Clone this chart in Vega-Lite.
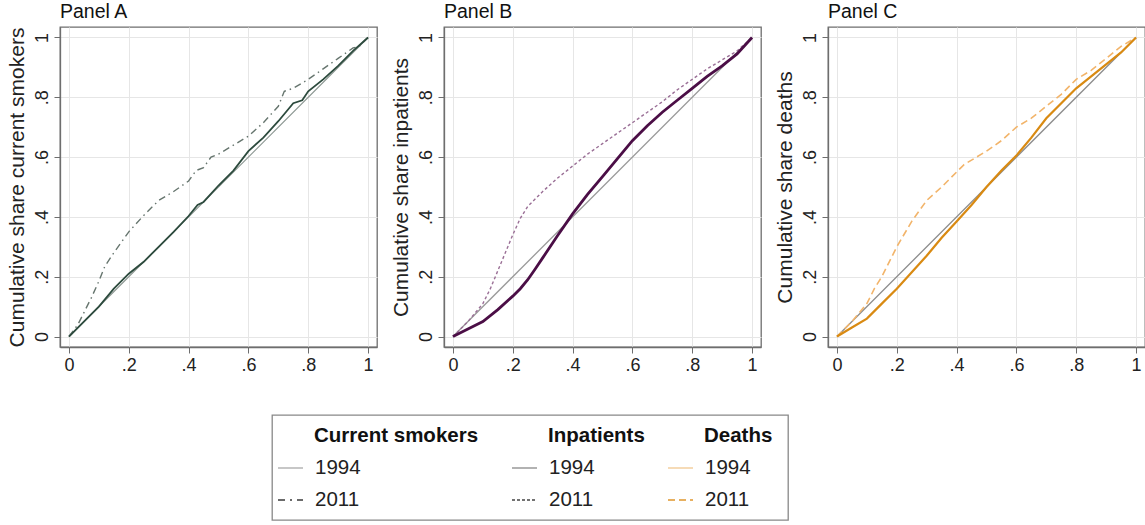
{
  "$schema": "https://vega.github.io/schema/vega-lite/v6.json",
  "padding": {"left": 5, "top": 0, "right": 2, "bottom": 0},
  "background": "white",
  "datasets": {
    "curves": [
      {"panel": "A", "series": "diag", "x": 0, "y": 0},
      {"panel": "A", "series": "diag", "x": 1, "y": 1},
      {"panel": "A", "series": "1994", "x": 0, "y": 0},
      {"panel": "A", "series": "1994", "x": 0.05, "y": 0.05},
      {"panel": "A", "series": "1994", "x": 0.1, "y": 0.1},
      {"panel": "A", "series": "1994", "x": 0.15, "y": 0.16},
      {"panel": "A", "series": "1994", "x": 0.2, "y": 0.21},
      {"panel": "A", "series": "1994", "x": 0.25, "y": 0.25},
      {"panel": "A", "series": "1994", "x": 0.3, "y": 0.3},
      {"panel": "A", "series": "1994", "x": 0.35, "y": 0.35},
      {"panel": "A", "series": "1994", "x": 0.4, "y": 0.403},
      {"panel": "A", "series": "1994", "x": 0.43, "y": 0.44},
      {"panel": "A", "series": "1994", "x": 0.45, "y": 0.45},
      {"panel": "A", "series": "1994", "x": 0.5, "y": 0.505},
      {"panel": "A", "series": "1994", "x": 0.55, "y": 0.555},
      {"panel": "A", "series": "1994", "x": 0.6, "y": 0.62},
      {"panel": "A", "series": "1994", "x": 0.65, "y": 0.665},
      {"panel": "A", "series": "1994", "x": 0.7, "y": 0.72},
      {"panel": "A", "series": "1994", "x": 0.75, "y": 0.78},
      {"panel": "A", "series": "1994", "x": 0.78, "y": 0.79},
      {"panel": "A", "series": "1994", "x": 0.8, "y": 0.82},
      {"panel": "A", "series": "1994", "x": 0.85, "y": 0.86},
      {"panel": "A", "series": "1994", "x": 0.9, "y": 0.905},
      {"panel": "A", "series": "1994", "x": 0.95, "y": 0.955},
      {"panel": "A", "series": "1994", "x": 1, "y": 1},
      {"panel": "A", "series": "2011", "x": 0, "y": 0},
      {"panel": "A", "series": "2011", "x": 0.03, "y": 0.04},
      {"panel": "A", "series": "2011", "x": 0.05, "y": 0.08},
      {"panel": "A", "series": "2011", "x": 0.075, "y": 0.13},
      {"panel": "A", "series": "2011", "x": 0.1, "y": 0.185},
      {"panel": "A", "series": "2011", "x": 0.12, "y": 0.235},
      {"panel": "A", "series": "2011", "x": 0.15, "y": 0.28},
      {"panel": "A", "series": "2011", "x": 0.2, "y": 0.35},
      {"panel": "A", "series": "2011", "x": 0.25, "y": 0.405},
      {"panel": "A", "series": "2011", "x": 0.3, "y": 0.455},
      {"panel": "A", "series": "2011", "x": 0.35, "y": 0.485},
      {"panel": "A", "series": "2011", "x": 0.4, "y": 0.52},
      {"panel": "A", "series": "2011", "x": 0.425, "y": 0.555},
      {"panel": "A", "series": "2011", "x": 0.45, "y": 0.565},
      {"panel": "A", "series": "2011", "x": 0.475, "y": 0.6},
      {"panel": "A", "series": "2011", "x": 0.5, "y": 0.61},
      {"panel": "A", "series": "2011", "x": 0.55, "y": 0.64},
      {"panel": "A", "series": "2011", "x": 0.6, "y": 0.67},
      {"panel": "A", "series": "2011", "x": 0.65, "y": 0.715},
      {"panel": "A", "series": "2011", "x": 0.7, "y": 0.77},
      {"panel": "A", "series": "2011", "x": 0.72, "y": 0.82},
      {"panel": "A", "series": "2011", "x": 0.75, "y": 0.83},
      {"panel": "A", "series": "2011", "x": 0.8, "y": 0.86},
      {"panel": "A", "series": "2011", "x": 0.85, "y": 0.895},
      {"panel": "A", "series": "2011", "x": 0.9, "y": 0.93},
      {"panel": "A", "series": "2011", "x": 0.95, "y": 0.965},
      {"panel": "A", "series": "2011", "x": 0.97, "y": 0.97},
      {"panel": "A", "series": "2011", "x": 1, "y": 1},
      {"panel": "B", "series": "diag", "x": 0, "y": 0},
      {"panel": "B", "series": "diag", "x": 1, "y": 1},
      {"panel": "B", "series": "1994", "x": 0, "y": 0},
      {"panel": "B", "series": "1994", "x": 0.05, "y": 0.025},
      {"panel": "B", "series": "1994", "x": 0.1, "y": 0.05},
      {"panel": "B", "series": "1994", "x": 0.15, "y": 0.09},
      {"panel": "B", "series": "1994", "x": 0.2, "y": 0.135},
      {"panel": "B", "series": "1994", "x": 0.225, "y": 0.16},
      {"panel": "B", "series": "1994", "x": 0.25, "y": 0.19},
      {"panel": "B", "series": "1994", "x": 0.275, "y": 0.226},
      {"panel": "B", "series": "1994", "x": 0.3, "y": 0.263},
      {"panel": "B", "series": "1994", "x": 0.35, "y": 0.338},
      {"panel": "B", "series": "1994", "x": 0.4, "y": 0.41},
      {"panel": "B", "series": "1994", "x": 0.45, "y": 0.475},
      {"panel": "B", "series": "1994", "x": 0.5, "y": 0.535},
      {"panel": "B", "series": "1994", "x": 0.55, "y": 0.595},
      {"panel": "B", "series": "1994", "x": 0.6, "y": 0.655},
      {"panel": "B", "series": "1994", "x": 0.65, "y": 0.705},
      {"panel": "B", "series": "1994", "x": 0.7, "y": 0.75},
      {"panel": "B", "series": "1994", "x": 0.75, "y": 0.79},
      {"panel": "B", "series": "1994", "x": 0.8, "y": 0.83},
      {"panel": "B", "series": "1994", "x": 0.85, "y": 0.87},
      {"panel": "B", "series": "1994", "x": 0.9, "y": 0.905},
      {"panel": "B", "series": "1994", "x": 0.95, "y": 0.945},
      {"panel": "B", "series": "1994", "x": 1, "y": 1},
      {"panel": "B", "series": "2011", "x": 0, "y": 0},
      {"panel": "B", "series": "2011", "x": 0.05, "y": 0.05},
      {"panel": "B", "series": "2011", "x": 0.1, "y": 0.11},
      {"panel": "B", "series": "2011", "x": 0.125, "y": 0.16},
      {"panel": "B", "series": "2011", "x": 0.15, "y": 0.22},
      {"panel": "B", "series": "2011", "x": 0.175, "y": 0.28},
      {"panel": "B", "series": "2011", "x": 0.2, "y": 0.34},
      {"panel": "B", "series": "2011", "x": 0.225, "y": 0.395},
      {"panel": "B", "series": "2011", "x": 0.25, "y": 0.435},
      {"panel": "B", "series": "2011", "x": 0.3, "y": 0.485},
      {"panel": "B", "series": "2011", "x": 0.35, "y": 0.53},
      {"panel": "B", "series": "2011", "x": 0.4, "y": 0.57},
      {"panel": "B", "series": "2011", "x": 0.45, "y": 0.61},
      {"panel": "B", "series": "2011", "x": 0.5, "y": 0.645},
      {"panel": "B", "series": "2011", "x": 0.55, "y": 0.68},
      {"panel": "B", "series": "2011", "x": 0.6, "y": 0.715},
      {"panel": "B", "series": "2011", "x": 0.65, "y": 0.75},
      {"panel": "B", "series": "2011", "x": 0.7, "y": 0.785},
      {"panel": "B", "series": "2011", "x": 0.75, "y": 0.825},
      {"panel": "B", "series": "2011", "x": 0.8, "y": 0.86},
      {"panel": "B", "series": "2011", "x": 0.85, "y": 0.895},
      {"panel": "B", "series": "2011", "x": 0.9, "y": 0.925},
      {"panel": "B", "series": "2011", "x": 0.95, "y": 0.955},
      {"panel": "B", "series": "2011", "x": 1, "y": 1},
      {"panel": "C", "series": "diag", "x": 0, "y": 0},
      {"panel": "C", "series": "diag", "x": 1, "y": 1},
      {"panel": "C", "series": "1994", "x": 0, "y": 0},
      {"panel": "C", "series": "1994", "x": 0.05, "y": 0.03},
      {"panel": "C", "series": "1994", "x": 0.1, "y": 0.06},
      {"panel": "C", "series": "1994", "x": 0.15, "y": 0.11},
      {"panel": "C", "series": "1994", "x": 0.2, "y": 0.16},
      {"panel": "C", "series": "1994", "x": 0.25, "y": 0.215},
      {"panel": "C", "series": "1994", "x": 0.3, "y": 0.27},
      {"panel": "C", "series": "1994", "x": 0.35, "y": 0.33},
      {"panel": "C", "series": "1994", "x": 0.4, "y": 0.385},
      {"panel": "C", "series": "1994", "x": 0.45, "y": 0.44},
      {"panel": "C", "series": "1994", "x": 0.5, "y": 0.5},
      {"panel": "C", "series": "1994", "x": 0.55, "y": 0.555},
      {"panel": "C", "series": "1994", "x": 0.6, "y": 0.605},
      {"panel": "C", "series": "1994", "x": 0.65, "y": 0.665},
      {"panel": "C", "series": "1994", "x": 0.7, "y": 0.73},
      {"panel": "C", "series": "1994", "x": 0.75, "y": 0.78},
      {"panel": "C", "series": "1994", "x": 0.8, "y": 0.83},
      {"panel": "C", "series": "1994", "x": 0.85, "y": 0.87},
      {"panel": "C", "series": "1994", "x": 0.9, "y": 0.91},
      {"panel": "C", "series": "1994", "x": 0.95, "y": 0.95},
      {"panel": "C", "series": "1994", "x": 1, "y": 1},
      {"panel": "C", "series": "2011", "x": 0, "y": 0},
      {"panel": "C", "series": "2011", "x": 0.05, "y": 0.05},
      {"panel": "C", "series": "2011", "x": 0.1, "y": 0.11},
      {"panel": "C", "series": "2011", "x": 0.125, "y": 0.16},
      {"panel": "C", "series": "2011", "x": 0.15, "y": 0.2},
      {"panel": "C", "series": "2011", "x": 0.2, "y": 0.3},
      {"panel": "C", "series": "2011", "x": 0.25, "y": 0.385},
      {"panel": "C", "series": "2011", "x": 0.3, "y": 0.455},
      {"panel": "C", "series": "2011", "x": 0.35, "y": 0.5},
      {"panel": "C", "series": "2011", "x": 0.4, "y": 0.55},
      {"panel": "C", "series": "2011", "x": 0.425, "y": 0.575},
      {"panel": "C", "series": "2011", "x": 0.45, "y": 0.59},
      {"panel": "C", "series": "2011", "x": 0.5, "y": 0.62},
      {"panel": "C", "series": "2011", "x": 0.55, "y": 0.655},
      {"panel": "C", "series": "2011", "x": 0.6, "y": 0.7},
      {"panel": "C", "series": "2011", "x": 0.65, "y": 0.73},
      {"panel": "C", "series": "2011", "x": 0.7, "y": 0.77},
      {"panel": "C", "series": "2011", "x": 0.75, "y": 0.81},
      {"panel": "C", "series": "2011", "x": 0.8, "y": 0.86},
      {"panel": "C", "series": "2011", "x": 0.85, "y": 0.89},
      {"panel": "C", "series": "2011", "x": 0.9, "y": 0.93},
      {"panel": "C", "series": "2011", "x": 0.95, "y": 0.97},
      {"panel": "C", "series": "2011", "x": 1, "y": 1}
    ],
    "legendItems": [
      {"group": "Current smokers", "year": "1994", "key": "A1994", "col": 0, "row": 1},
      {"group": "Current smokers", "year": "2011", "key": "A2011", "col": 0, "row": 2},
      {"group": "Inpatients", "year": "1994", "key": "B1994", "col": 1, "row": 1},
      {"group": "Inpatients", "year": "2011", "key": "B2011", "col": 1, "row": 2},
      {"group": "Deaths", "year": "1994", "key": "C1994", "col": 2, "row": 1},
      {"group": "Deaths", "year": "2011", "key": "C2011", "col": 2, "row": 2}
    ],
    "legendHeads": [
      {"group": "Current smokers", "col": 0, "row": 0},
      {"group": "Inpatients", "col": 1, "row": 0},
      {"group": "Deaths", "col": 2, "row": 0}
    ]
  },
  "spacing": 39,
  "vconcat": [
    {
      "spacing": 11,
      "hconcat": [
        {
          "title": "Panel A",
          "width": 317,
          "height": 320,
          "data": {"name": "curves"},
          "transform": [{"filter": "datum.panel == 'A'"}],
          "encoding": {
            "x": {"field": "x", "type": "quantitative", "scale": {"domain": [-0.03, 1.03], "nice": false, "zero": false}, "axis": {"values": [0, 0.2, 0.4, 0.6, 0.8, 1], "format": ".1~f", "labelExpr": "replace(datum.label, '0.', '.')", "title": null}},
            "y": {"field": "y", "type": "quantitative", "scale": {"domain": [-0.035, 1.035], "nice": false, "zero": false}, "axis": {"values": [0, 0.2, 0.4, 0.6, 0.8, 1], "format": ".1~f", "labelExpr": "replace(datum.label, '0.', '.')", "labelAngle": -90, "title": "Cumulative share current smokers"}}
          },
          "layer": [
            {"transform": [{"filter": "datum.series == 'diag'"}], "mark": {"type": "line", "color": "#8a9590", "strokeWidth": 1.2}},
            {"transform": [{"filter": "datum.series == '2011'"}], "mark": {"type": "line", "color": "#66756e", "strokeWidth": 1.4, "strokeDash": [7, 4, 1.5, 4]}},
            {"transform": [{"filter": "datum.series == '1994'"}], "mark": {"type": "line", "color": "#2c4a3d", "strokeWidth": 1.8}}
          ]
        },
        {
          "title": "Panel B",
          "width": 317,
          "height": 320,
          "data": {"name": "curves"},
          "transform": [{"filter": "datum.panel == 'B'"}],
          "encoding": {
            "x": {"field": "x", "type": "quantitative", "scale": {"domain": [-0.03, 1.03], "nice": false, "zero": false}, "axis": {"values": [0, 0.2, 0.4, 0.6, 0.8, 1], "format": ".1~f", "labelExpr": "replace(datum.label, '0.', '.')", "title": null}},
            "y": {"field": "y", "type": "quantitative", "scale": {"domain": [-0.035, 1.035], "nice": false, "zero": false}, "axis": {"values": [0, 0.2, 0.4, 0.6, 0.8, 1], "format": ".1~f", "labelExpr": "replace(datum.label, '0.', '.')", "labelAngle": -90, "title": "Cumulative share inpatients"}}
          },
          "layer": [
            {"transform": [{"filter": "datum.series == 'diag'"}], "mark": {"type": "line", "color": "#9a9a9a", "strokeWidth": 1.3}},
            {"transform": [{"filter": "datum.series == '2011'"}], "mark": {"type": "line", "color": "#9a6f96", "strokeWidth": 1.4, "strokeDash": [3, 2.5]}},
            {"transform": [{"filter": "datum.series == '1994'"}], "mark": {"type": "line", "color": "#4b0e46", "strokeWidth": 2.8}}
          ]
        },
        {
          "title": "Panel C",
          "width": 317,
          "height": 320,
          "data": {"name": "curves"},
          "transform": [{"filter": "datum.panel == 'C'"}],
          "encoding": {
            "x": {"field": "x", "type": "quantitative", "scale": {"domain": [-0.03, 1.03], "nice": false, "zero": false}, "axis": {"values": [0, 0.2, 0.4, 0.6, 0.8, 1], "format": ".1~f", "labelExpr": "replace(datum.label, '0.', '.')", "title": null}},
            "y": {"field": "y", "type": "quantitative", "scale": {"domain": [-0.035, 1.035], "nice": false, "zero": false}, "axis": {"values": [0, 0.2, 0.4, 0.6, 0.8, 1], "format": ".1~f", "labelExpr": "replace(datum.label, '0.', '.')", "labelAngle": -90, "title": "Cumulative share deaths"}}
          },
          "layer": [
            {"transform": [{"filter": "datum.series == 'diag'"}], "mark": {"type": "line", "color": "#8c8c8c", "strokeWidth": 1.3}},
            {"transform": [{"filter": "datum.series == '2011'"}], "mark": {"type": "line", "color": "#f2b46a", "strokeWidth": 1.6, "strokeDash": [7, 4]}},
            {"transform": [{"filter": "datum.series == '1994'"}], "mark": {"type": "line", "color": "#d98a12", "strokeWidth": 2.2}}
          ]
        }
      ]
    },
    {
      "spacing": 0,
      "hconcat": [
        {
          "width": 211,
          "height": 105,
          "view": {"stroke": null},
          "data": {"values": []},
          "mark": "point"
        },
        {
          "width": 516,
          "height": 105,
          "view": {"stroke": "#888888", "strokeWidth": 1.3},
          "layer": [
            {
              "data": {"name": "legendHeads"},
              "mark": {"type": "text", "align": "left", "baseline": "middle", "fontSize": 20.5, "fontWeight": "bold", "color": "#111111"},
              "encoding": {
                "x": {"field": "col", "type": "quantitative", "scale": {"domain": [0, 1, 2], "range": [42, 276, 432]}, "axis": null},
                "y": {"field": "row", "type": "quantitative", "scale": {"domain": [0, 2], "range": [21, 85]}, "axis": null},
                "text": {"field": "group"}
              }
            },
            {
              "data": {"name": "legendItems"},
              "mark": {"type": "text", "align": "left", "baseline": "middle", "fontSize": 20.5, "color": "#222222", "dx": 1},
              "encoding": {
                "x": {"field": "col", "type": "quantitative", "scale": {"domain": [0, 1, 2], "range": [42, 276, 432]}, "axis": null},
                "y": {"field": "row", "type": "quantitative", "scale": {"domain": [0, 2], "range": [21, 85]}, "axis": null},
                "text": {"field": "year"}
              }
            },
            {
              "data": {"name": "legendItems"},
              "mark": {"type": "rule", "xOffset": -36, "x2Offset": -11},
              "encoding": {
                "x": {"field": "col", "type": "quantitative", "scale": {"domain": [0, 1, 2], "range": [42, 276, 432]}, "axis": null},
                "x2": {"field": "col"},
                "y": {"field": "row", "type": "quantitative", "scale": {"domain": [0, 2], "range": [21, 85]}, "axis": null},
                "color": {"field": "key", "type": "nominal", "legend": null, "scale": {"domain": ["A1994", "A2011", "B1994", "B2011", "C1994", "C2011"], "range": ["#b5b5b5", "#3a3a3a", "#999999", "#444444", "#f3cfa0", "#e0962e"]}},
                "strokeDash": {"field": "key", "type": "nominal", "legend": null, "scale": {"domain": ["A1994", "A2011", "B1994", "B2011", "C1994", "C2011"], "range": [[1, 0], [7, 5, 2, 5], [1, 0], [3, 2], [1, 0], [7, 4]]}},
                "strokeWidth": {"value": 1.5}
              }
            }
          ]
        }
      ]
    }
  ],
  "config": {
    "font": "Liberation Sans",
    "view": {"stroke": "#6e6e6e", "strokeWidth": 1.3},
    "title": {"anchor": "start", "frame": "group", "fontSize": 19.5, "fontWeight": "normal", "color": "#111111", "offset": 5},
    "axis": {
      "grid": true,
      "gridColor": "#e6e6e6",
      "gridWidth": 1,
      "domainColor": "#6e6e6e",
      "domainWidth": 1.3,
      "tickColor": "#6e6e6e",
      "tickSize": 6,
      "labelFontSize": 18,
      "labelColor": "#222222",
      "labelPadding": 3,
      "titleFontSize": 21,
      "titleFontWeight": "normal",
      "titleColor": "#222222",
      "titlePadding": 6
    }
  }
}
